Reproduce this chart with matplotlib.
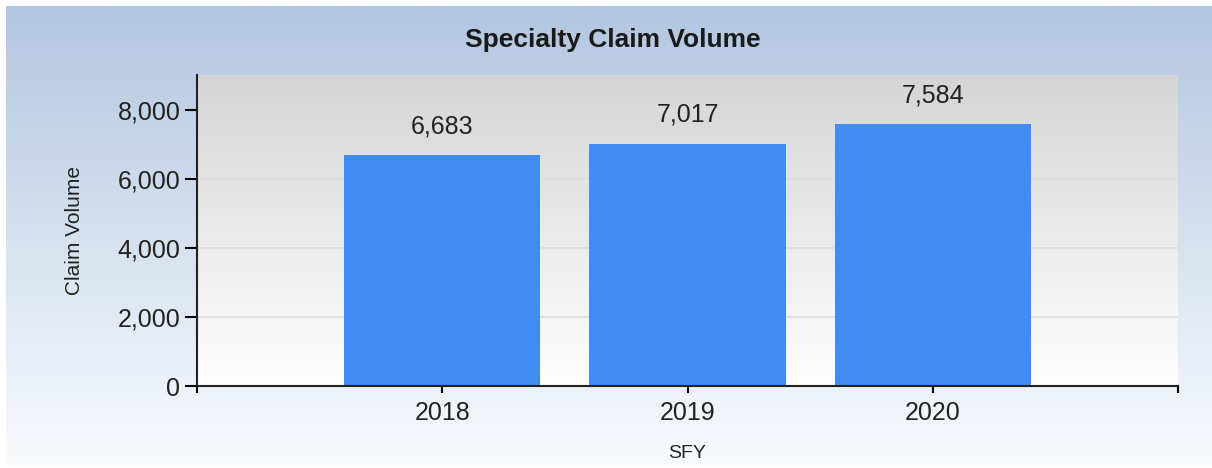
import numpy as np
import matplotlib
matplotlib.use('Agg')
import matplotlib.pyplot as plt
from matplotlib.colors import LinearSegmentedColormap

years = ['2018', '2019', '2020']
claims = [6683, 7017, 7584]
yticks = [0, 2000, 4000, 6000, 8000]

plt.rcParams['font.family'] = ['Liberation Sans', 'DejaVu Sans']

W, H = 1212, 468
fig = plt.figure(figsize=(W / 100, H / 100), dpi=100, facecolor='white')

# blue-to-white backdrop of the chart image
bg = fig.add_axes([6 / W, 2 / H, 1 - 6 / W, (H - 8) / H], zorder=-10)
bg_cmap = LinearSegmentedColormap.from_list('bg', ['#b3c6e0', '#f9fbfe'])
bg.imshow(np.linspace(0, 1, 256).reshape(-1, 1), cmap=bg_cmap, aspect='auto',
          extent=[0, 1, 0, 1])
bg.axis('off')

left, right, top, bottom = 197, 1178, 75, 386
ax = fig.add_axes([left / W, (H - bottom) / H, (right - left) / W, (bottom - top) / H])
ax.set_xlim(-1, 3)
ax.set_ylim(0, 9000)

plot_cmap = LinearSegmentedColormap.from_list('plot', ['#ffffff', '#d5d5d5'])
ax.imshow(np.linspace(0, 1, 256).reshape(-1, 1), cmap=plot_cmap, aspect='auto',
          extent=[-1, 3, 0, 9000], origin='lower', zorder=0)

for y in yticks[1:]:
    ax.axhline(y, color='#dcdcdc', lw=1.2, zorder=1)

x = np.arange(len(years))
bars = ax.bar(x, claims, width=0.8, color='#428bf0', zorder=2)
for b, v in zip(bars, claims):
    ax.annotate(f'{v:,}', (b.get_x() + b.get_width() / 2, v), xytext=(0, 12),
                textcoords='offset points', ha='center', va='bottom', fontsize=18,
                color='#222222')

ax.set_xticks([-1, 0, 1, 2, 3])
ax.set_xticklabels([''] + years + [''])
ax.set_yticks(yticks)
ax.set_yticklabels([f'{v:,}' for v in yticks])
ax.tick_params(axis='y', length=9, width=1.5, labelsize=18, pad=3, labelcolor='#222222')
ax.tick_params(axis='x', length=5, width=1.5, labelsize=18, pad=6, labelcolor='#222222')

for s in ['top', 'right']:
    ax.spines[s].set_visible(False)
for s in ['left', 'bottom']:
    ax.spines[s].set_linewidth(1.5)
    ax.spines[s].set_color('#222222')

ax.set_xlabel('SFY', fontsize=14, color='#222222', labelpad=14)
ax.set_ylabel('Claim Volume', fontsize=15, color='#222222', labelpad=24)

fig.text(613 / W, 1 - 40 / H, 'Specialty Claim Volume', ha='center', va='center',
         fontsize=19, fontweight='bold', color='#1a1a1a')

fig.savefig('out.png', dpi=100, facecolor='white')
